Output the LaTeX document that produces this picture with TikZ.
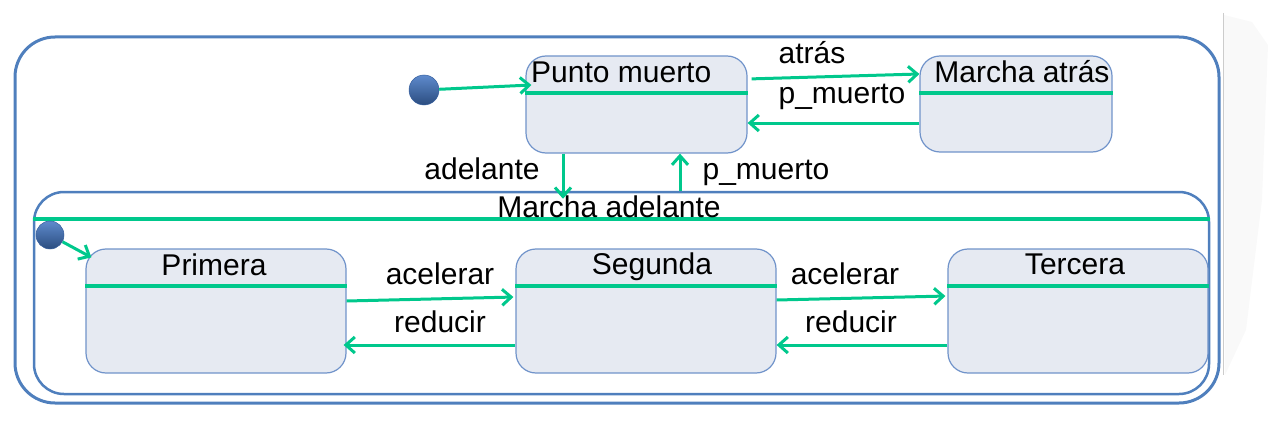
\documentclass[tikz,border=0pt]{standalone}
\usepackage{fontspec}
\setmainfont{Liberation Sans}
\usetikzlibrary{positioning,calc,arrows.meta}
\definecolor{boxblue}{RGB}{79,127,189}
\definecolor{stblue}{RGB}{112,147,202}
\definecolor{stfill}{RGB}{230,234,242}
\definecolor{trgreen}{RGB}{0,200,140}
\definecolor{dotblue}{RGB}{66,118,196}

\begin{document}
\begin{tikzpicture}[x=1pt, y=-1pt, font=\fontsize{30}{36}\selectfont,
    state/.style={draw=stblue, line width=1.2pt, fill=stfill, rounded corners=20pt,
        minimum width=260pt, minimum height=124pt, inner sep=0pt},
    region/.style={draw=boxblue, rounded corners=#1, inner sep=0pt},
    hdr/.style={trgreen, line width=4pt},
    tr/.style={trgreen, line width=3pt, -{Straight Barb[length=9pt,width=16pt]}},
    lbl/.style={anchor=base, inner sep=0pt},
    init/.style={circle, minimum size=30pt, inner sep=0pt, draw=dotblue!80!black, line width=0.5pt,
        top color=dotblue!85!white, bottom color=dotblue!65!black}]
    \useasboundingbox (0,0) rectangle (1270,428);

    % page edge on the right
    \fill[gray!5] (1224,15) -- (1252,22) -- (1268,45) -- (1262,200) -- (1246,330) -- (1225,375) -- cycle;
    \draw[gray!40, line width=1pt] (1223,13) -- (1223,375);

    % Regions
    \node[region=40pt, line width=3pt, minimum width=1204pt, minimum height=366pt] (gear) at (617,220) {};
    \node[region=30pt, line width=2.5pt, minimum width=1175pt, minimum height=202pt] (fwd) at (621.5,293) {};
    \draw[hdr, line width=3.5pt] ($(fwd.north west)+(0,28)$) -- ($(fwd.north east)+(0,28)$);
    \node[lbl] (fwdt) at (609,217) {Marcha adelante};

    % States
    \node[state, minimum width=221pt, minimum height=97pt] (pm) at (636.5,104.5) {};
    \node[state, minimum width=192pt, minimum height=96pt] (ma) at (1016,104) {};
    \node[state] (pr) at (216,311) {};
    \node[state] (se) at (646,311) {};
    \node[state] (te) at (1078,311) {};
    \foreach \s in {pm,ma,pr,se,te}
        \draw[hdr] ($(\s.north west)+(0,38)$) -- ($(\s.north east)+(0,38)$);

    \node[lbl, anchor=base west] (pmt) at (531,83) {Punto muerto};
    \node[lbl] (mat) at (1022,83) {Marcha atrás};
    \node[lbl] (prt) at (214,275) {Primera};
    \node[lbl] (set) at (652,274) {Segunda};
    \node[lbl] (tet) at (1075,274) {Tercera};

    % Initial states
    \node[init] (d0) at (424,90) {};
    \node[init, minimum size=28pt] (d1) at (50,235) {};
    \draw[tr] (d0) -- ($(pm.west)+(6,-19.5)$);
    \draw[tr] (d1) -- ($(pr.north west)+(6,9)$);

    % Transitions
    \draw[tr, shorten <=4pt] (pm.east |- 0,79) -- (ma.west |- 0,74);
    \draw[tr] (ma.west |- 0,123) -- (pm.east |- 0,123);
    \draw[tr, shorten >=-8pt] (pm.south -| 563,0) -- (fwd.north -| 563,0);
    \draw[tr] (fwd.north -| 680,0) -- (pm.south -| 680,0);
    \draw[tr, shorten >=2pt] (pr.east |- 0,301) -- (se.west |- 0,297);
    \draw[tr, shorten >=-3pt] (se.west |- 0,345) -- (pr.east |- 0,345);
    \draw[tr, shorten >=2pt] (se.east |- 0,300) -- (te.west |- 0,296);
    \draw[tr] (te.west |- 0,345) -- (se.east |- 0,345);

    \node[lbl] (l1) at (812,64) {atrás};
    \node[lbl] (l2) at (842,103) {p\_muerto};
    \node[lbl] (l3) at (482,179) {adelante};
    \node[lbl] (l4) at (766,179) {p\_muerto};
    \node[lbl] (l5) at (440,284) {acelerar};
    \node[lbl] (l6) at (440,332) {reducir};
    \node[lbl] (l7) at (845,284) {acelerar};
    \node[lbl] (l8) at (851,332) {reducir};
\end{tikzpicture}
\end{document}
